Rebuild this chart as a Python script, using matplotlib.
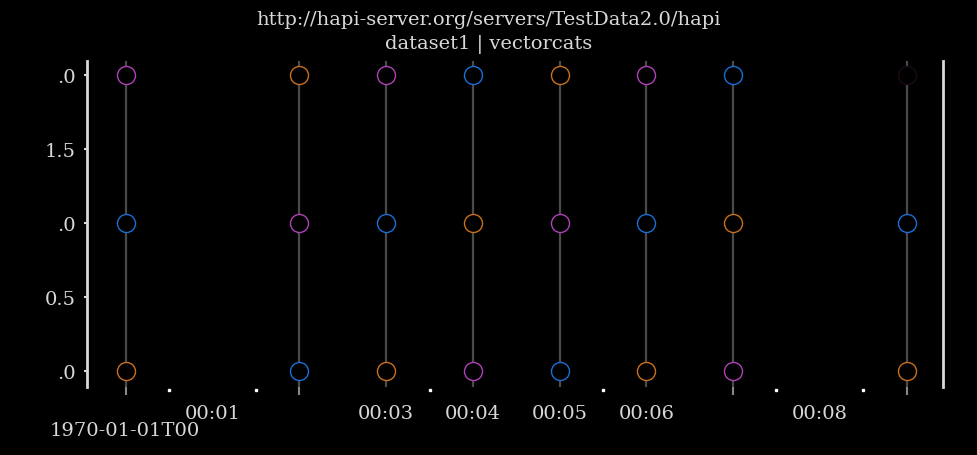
import matplotlib
matplotlib.use("Agg")
import matplotlib.pyplot as plt
import matplotlib.transforms as mtransforms

# seconds after 1970-01-01T00:00:00
times = [0, 2, 3, 4, 5, 6, 7, 9]
# category of each vector component at each time (top = comp 2, bottom = comp 0)
comp2_cats = ["m", "o", "m", "b", "o", "m", "b", "k"]
comp1_cats = ["b", "m", "b", "o", "m", "b", "o", "b"]
comp0_cats = ["o", "b", "o", "m", "b", "o", "m", "o"]
cat_colors = {"b": "#1a6fd6", "o": "#c8701e", "m": "#b040b8", "k": "#1a0a1a"}

label_times = [1, 3, 4, 5, 6, 8]
label_texts = ["00:01", "00:03", "00:04", "00:05", "00:06", "00:08"]
half_times = [0.5, 1.5, 3.5, 5.5, 7.5, 8.5]
ytick_vals = [0, 0.5, 1, 1.5, 2]
ytick_texts = [".0", "0.5", ".0", "1.5", ".0"]

plt.rcParams["font.family"] = ["DejaVu Serif"]
fg = "#d8d8d8"
fs = 14

fig = plt.figure(figsize=(9.78, 4.56), dpi=100, facecolor="black")
ax = fig.add_axes([87 / 978, 68 / 456, (943 - 87) / 978, (388 - 62) / 456])
ax.set_facecolor("black")

# grid lines at each sample time
for t in times:
    ax.axvline(t, color="#4a4a4a", lw=1.6, zorder=1)

for comp, cats in enumerate([comp0_cats, comp1_cats, comp2_cats]):
    for t, c in zip(times, cats):
        ax.plot(t, comp, "o", ms=13, mfc="black", mec=cat_colors[c], mew=1.0, zorder=3)

ax.set_xlim(-0.45, 9.42)
ax.set_ylim(-0.108, 2.095)

ax.set_xticks(label_times)
ax.set_xticklabels(label_texts)
ax.set_xticks(times, minor=True)
ax.tick_params(axis="x", which="major", length=0, pad=12, labelsize=fs, colors=fg)
ax.tick_params(axis="x", which="minor", length=6, width=1.5, color="#888888")

ax.set_yticks(ytick_vals)
ax.set_yticklabels(ytick_texts)
ax.tick_params(axis="y", length=2, width=1.5, colors=fg, labelsize=fs, pad=6)

trans = mtransforms.blended_transform_factory(ax.transData, ax.transAxes)
ax.plot(half_times, [-0.01] * len(half_times), "s", ms=1.8, color="white",
        transform=trans, clip_on=False)

for s in ["top", "bottom"]:
    ax.spines[s].set_visible(False)
ax.spines["left"].set_color(fg)
ax.spines["left"].set_linewidth(2)
ax.spines["right"].set_color(fg)
ax.spines["right"].set_linewidth(2)

fig.text(0.5, 1 - 20 / 456, "http://hapi-server.org/servers/TestData2.0/hapi",
         ha="center", va="center", color=fg, fontsize=fs)
fig.text(0.5, 1 - 44 / 456, "dataset1 | vectorcats",
         ha="center", va="center", color=fg, fontsize=fs)
fig.text(50 / 978, 1 - 431 / 456, "1970-01-01T00", ha="left", va="center",
         color=fg, fontsize=fs)

fig.savefig("out.png", dpi=100, facecolor="black")
